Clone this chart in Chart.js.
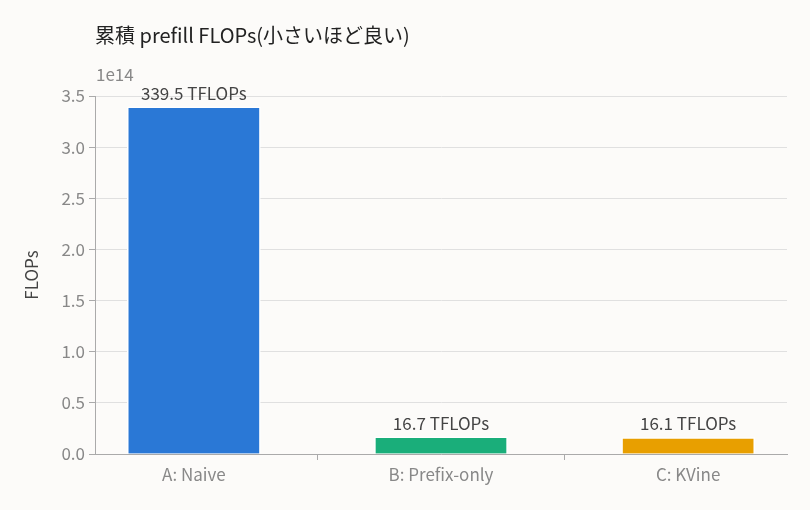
<!DOCTYPE html>
<html><head><meta charset="utf-8">
<script src="https://cdn.jsdelivr.net/npm/chart.js@4"></script>
<style>html,body{margin:0;padding:0;background:#FCFBF9;}#w{width:810px;height:510px;}</style>
</head><body><div id="w"><canvas id="c"></canvas></div>
<script>
const categories = ["A: Naive", "B: Prefix-only", "C: KVine"];
const flops = [339.5e12, 16.7e12, 16.1e12];
const labels = ["339.5 TFLOPs", "16.7 TFLOPs", "16.1 TFLOPs"];
const colors = ["#2A78D6", "#1AAE7A", "#E89F00"];
const yTicks = [0, 0.5e14, 1e14, 1.5e14, 2e14, 2.5e14, 3e14, 3.5e14];
const FONT = "'Noto Sans CJK JP', 'Noto Sans', sans-serif";

const deco = {
  id: 'deco',
  beforeDraw(ch) {
    const c = ch.ctx; c.save(); c.fillStyle = '#FCFBF9'; c.fillRect(0,0,ch.width,ch.height); c.restore();
  },
  afterDatasetsDraw(ch) {
    const c = ch.ctx; c.save();
    c.font = "20px " + FONT; c.fillStyle = '#222'; c.textBaseline = 'middle'; c.textAlign = 'left';
    c.fillText("累積 prefill FLOPs(小さいほど良い)", 95, 35);
    c.font = "17px " + FONT; c.fillStyle = '#888';
    c.fillText("1e14", 96, 75);
    c.save(); c.translate(32, 275); c.rotate(-Math.PI/2); c.textAlign='center'; c.fillStyle='#444'; c.font = "17px " + FONT;
    c.fillText("FLOPs", 0, 0); c.restore();
    c.font = "17px " + FONT; c.fillStyle = '#444'; c.textAlign = 'center'; c.textBaseline = 'bottom';
    ch.getDatasetMeta(0).data.forEach((b, i) => c.fillText(labels[i], b.x, b.y - 5));
    c.restore();
  }
};

new Chart(document.getElementById('c'), {
  type: 'bar',
  data: { datasets: [{ data: flops.map((v, i) => ({ x: i, y: v })), backgroundColor: colors, borderColor: '#FFFFFF', borderWidth: 1.5, barThickness: 133 }] },
  plugins: [deco],
  options: {
    responsive: true, maintainAspectRatio: false, animation: false,
    layout: { padding: { left: 0, right: 23, top: 96, bottom: 0 } },
    plugins: { legend: { display: false }, tooltip: { enabled: false } },
    scales: {
      x: {
        type: 'linear', min: -0.4, max: 2.4, offset: false,
        afterBuildTicks(s) { s.ticks = [0, 1, 2].map(v => ({ value: v })); },
        grid: { display: true, drawOnChartArea: false, drawTicks: true, tickLength: 6, tickColor: '#AAA' },
        border: { color: '#AAA' },
        ticks: { color: '#888', font: { family: FONT, size: 17 }, padding: 4, callback: v => categories[v] },
        afterFit(s) { s.height = 56; }
      },
      y: {
        min: 0, max: 3.5e14,
        afterBuildTicks(s) { s.ticks = yTicks.map(v => ({ value: v })); },
        grid: { color: '#E0E0E0', tickLength: 6, tickColor: '#AAA' },
        border: { color: '#AAA' },
        ticks: { color: '#888', font: { family: FONT, size: 17 }, padding: 4, callback: v => (v / 1e14).toFixed(1) },
        afterFit(s) { s.width = 95; }
      }
    }
  }
});
</script></body></html>
